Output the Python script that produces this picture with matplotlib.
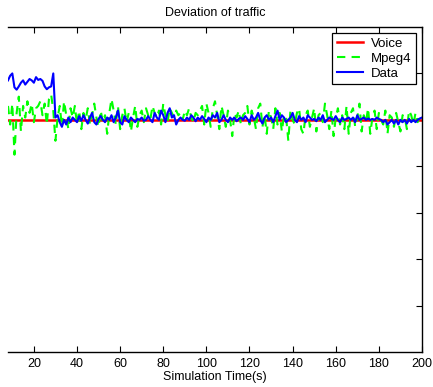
import matplotlib
matplotlib.use('Agg')
import matplotlib.pyplot as plt
import numpy as np

# time axis (s) and traffic deviation per second
t = list(range(8, 201))

voice = [0.0] * len(t)

mpeg4 = [
    0.3, -0.1, 0.35, -0.75, 0.15, 0.5, -0.25, 0.3, 0.05, 0.4,
    0.15, 0.35, -0.05, 0.25, 0.3, 0.4, 0.1, 0.35, -0.1, 0.45,
    0.55, 0.2, -0.45, 0.05, 0.3, -0.15, 0.4, 0.1, -0.2, 0.25,
    0.05, 0.3, -0.1, 0.2, -0.2, 0.15, 0.0, 0.25, -0.1, 0.1,
    0.35, 0.05, -0.15, 0.2, -0.05, 0.1, -0.3, 0.15, 0.45, 0.2,
    -0.1, 0.3, -0.2, 0.1, 0.25, -0.05, 0.15, -0.25, 0.05, 0.3,
    -0.15, 0.1, 0.2, -0.05, 0.25, 0.1, 0.0, 0.3, 0.15, 0.05,
    0.2, -0.1, 0.35, 0.1, -0.05, 0.25, 0.15, 0.05, 0.2, 0.1,
    0.15, 0.0, 0.2, 0.1, 0.25, 0.05, -0.05, 0.15, 0.1, 0.2,
    0.3, -0.1, 0.35, 0.15, -0.15, 0.25, 0.4, 0.1, -0.2, 0.3,
    0.1, -0.15, 0.2, 0.0, -0.35, 0.15, 0.05, 0.2, -0.1, 0.1,
    0.15, 0.3, -0.1, 0.2, 0.05, -0.2, 0.25, 0.35, -0.15, 0.1,
    -0.3, 0.2, 0.05, -0.2, 0.25, -0.1, 0.15, -0.25, 0.1, 0.05,
    -0.45, 0.2, 0.0, -0.1, 0.15, 0.25, -0.2, -0.3, 0.1, 0.2,
    -0.15, 0.05, 0.25, -0.25, 0.1, 0.15, -0.05, 0.35, 0.1, -0.2,
    0.2, -0.35, 0.05, 0.25, -0.1, 0.1, -0.2, 0.3, -0.3, 0.15,
    0.25, -0.15, 0.05, 0.35, -0.25, 0.1, -0.05, 0.25, -0.3, 0.05,
    0.2, -0.2, 0.15, 0.0, -0.1, 0.2, -0.3, 0.1, 0.05, -0.15,
    0.15, -0.05, -0.25, 0.1, 0.05, -0.2, 0.2, 0.1, -0.1, 0.15,
    -0.05, 0.1, 0.05,
]

data = [
    0.85, 0.95, 1.0, 0.7, 0.65, 0.72, 0.8, 0.85, 0.76, 0.82,
    0.88, 0.85, 0.8, 0.92, 0.86, 0.88, 0.84, 0.72, 0.66, 0.7,
    0.72, 1.0, 0.05, 0.1, -0.05, -0.15, 0.0, -0.1, 0.05, -0.05,
    0.05, 0.0, -0.05, 0.08, -0.02, 0.1, 0.0, -0.08, 0.05, 0.15,
    -0.05, -0.1, 0.02, 0.08, 0.0, -0.05, 0.05, 0.0, 0.1, -0.05,
    0.05, 0.2, -0.05, -0.1, 0.08, 0.0, -0.05, 0.05, 0.0, -0.05,
    0.02, 0.0, 0.05, -0.02, 0.0, 0.08, 0.0, -0.05, 0.15, 0.05,
    0.0, 0.2, 0.1, -0.05, 0.15, 0.25, 0.05, 0.1, -0.1, 0.0,
    0.05, 0.0, -0.02, 0.05, 0.0, 0.1, 0.05, -0.03, 0.05, 0.0,
    0.08, 0.02, -0.05, 0.05, 0.0, 0.1, 0.05, 0.15, -0.05, 0.0,
    0.1, 0.0, -0.05, 0.05, 0.0, 0.05, -0.03, 0.02, 0.05, 0.0,
    0.08, 0.02, -0.05, 0.1, 0.0, 0.05, 0.15, 0.0, -0.08, 0.05,
    0.1, 0.0, 0.05, -0.05, 0.08, 0.2, 0.0, 0.1, 0.05, -0.05,
    0.0, 0.05, 0.15, 0.0, -0.05, 0.08, 0.0, 0.05, -0.05, 0.1,
    0.05, 0.0, 0.02, -0.03, 0.05, 0.0, 0.1, -0.05, 0.0, 0.05,
    0.02, 0.0, 0.08, 0.0, -0.05, 0.05, 0.0, 0.02, 0.05, 0.0,
    0.05, -0.05, 0.1, 0.0, 0.02, 0.05, 0.0, 0.03, 0.0, 0.02,
    0.0, 0.05, 0.02, 0.0, -0.05, 0.0, -0.1, -0.05, 0.0, -0.08,
    0.0, -0.1, 0.0, -0.05, 0.0, -0.08, 0.02, -0.05, 0.0, -0.05,
    0.0, 0.03, 0.05,
]

xticks = [20, 40, 60, 80, 100, 120, 140, 160, 180, 200]

plt.rcParams['font.family'] = ['Liberation Sans', 'DejaVu Sans']

W, H = 433, 387
fig = plt.figure(figsize=(W / 100, H / 100), dpi=100)
ax = fig.add_axes([8 / W, 35 / H, (422 - 8) / W, (352 - 27) / H])

ax.plot(t, voice, color='#ff0000', lw=1.8, label='Voice')
ax.plot(t, mpeg4, color='#00ff00', lw=1.5, ls=(0, (4, 3)), label='Mpeg4')
ax.plot(t, data, color='#0000ff', lw=1.5, label='Data')

ax.set_xlim(8, 200)
ax.set_ylim(-5, 2)
ax.set_xticks(xticks)
ax.set_yticks(np.arange(-4, 2))
ax.tick_params(axis='x', direction='in', top=True, length=4, labelsize=9, pad=4)
ax.tick_params(axis='y', direction='in', left=False, right=True, labelleft=False, length=4)
ax.spines['left'].set_visible(False)
for sp in ['top', 'right', 'bottom']:
    ax.spines[sp].set_linewidth(1.0)

ax.set_xlabel('Simulation Time(s)', fontsize=9, labelpad=1)
ax.set_title('Deviation of traffic', fontsize=9, pad=8)

leg = ax.legend(loc='upper right', fontsize=9.5, fancybox=False, framealpha=1,
                edgecolor='black', borderaxespad=0.45, handlelength=2.0,
                labelspacing=0.2, borderpad=0.35, handletextpad=0.6)
leg.get_frame().set_linewidth(0.9)
leg._legend_box.align = 'left'

fig.savefig('out.png', dpi=100)
